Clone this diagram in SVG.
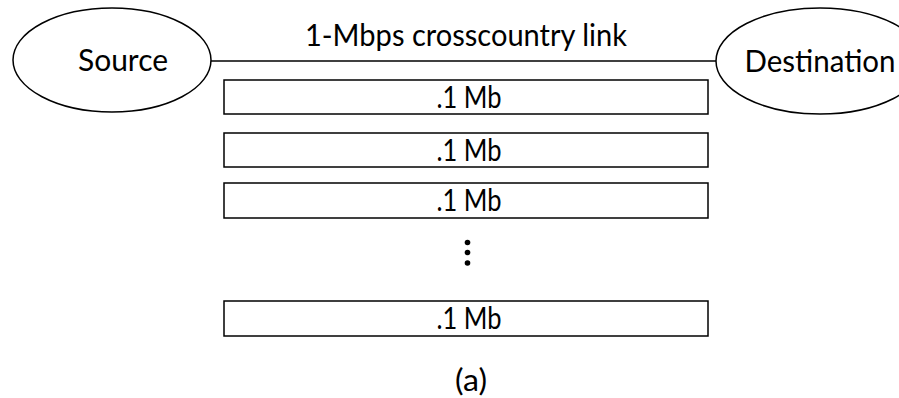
<svg xmlns="http://www.w3.org/2000/svg" width="899" height="398" viewBox="0 0 899 398">
  <style>
    .shape { fill: #ffffff; stroke: #000000; stroke-width: 1.5; }
    .wire { fill: none; stroke: #000000; stroke-width: 1.5; }
    .label { font-family: Lato, "Open Sans", sans-serif; font-size: 30px; fill: #000000; text-anchor: middle; }
    .dot { fill: #000000; }
  </style>
  <rect width="899" height="398" fill="#ffffff"/>

  <!-- link between the two hosts -->
  <g id="connectors">
    <line class="wire" x1="211" y1="61" x2="716" y2="61"/>
  </g>
  <text class="label" x="466" y="46" textLength="322" lengthAdjust="spacingAndGlyphs">1-Mbps crosscountry link</text>

  <g id="source">
    <ellipse class="shape" cx="112" cy="60" rx="99" ry="52"/>
    <text class="label" x="123" y="71" textLength="90" lengthAdjust="spacingAndGlyphs">Source</text>
  </g>

  <g id="destination">
    <ellipse class="shape" cx="820" cy="61" rx="104" ry="53"/>
    <text class="label" x="820" y="72" textLength="151" lengthAdjust="spacingAndGlyphs">Destination</text>
  </g>

  <!-- packets in flight -->
  <g id="packet1">
    <rect class="shape" x="224" y="80" width="484" height="34"/>
    <text class="label" x="469" y="108" textLength="65" lengthAdjust="spacingAndGlyphs">.1 Mb</text>
  </g>
  <g id="packet2">
    <rect class="shape" x="224" y="133" width="484" height="34"/>
    <text class="label" x="469" y="161" textLength="65" lengthAdjust="spacingAndGlyphs">.1 Mb</text>
  </g>
  <g id="packet3">
    <rect class="shape" x="224" y="183" width="484" height="35"/>
    <text class="label" x="469" y="211" textLength="65" lengthAdjust="spacingAndGlyphs">.1 Mb</text>
  </g>

  <g id="ellipsis">
    <circle class="dot" cx="467.5" cy="242.5" r="2.8"/>
    <circle class="dot" cx="467.5" cy="252.5" r="2.8"/>
    <circle class="dot" cx="467.5" cy="263" r="2.8"/>
  </g>

  <g id="packet4">
    <rect class="shape" x="224" y="301" width="484" height="35"/>
    <text class="label" x="469" y="329" textLength="65" lengthAdjust="spacingAndGlyphs">.1 Mb</text>
  </g>

  <text class="label" x="471" y="391" textLength="32" lengthAdjust="spacingAndGlyphs">(a)</text>
</svg>
